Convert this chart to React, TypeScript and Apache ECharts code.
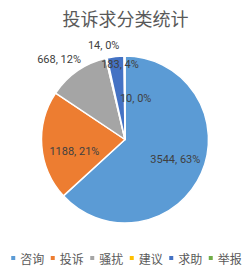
import React, { useEffect, useRef } from "react";
import * as echarts from "echarts";

const titleText = "投诉求分类统计";
const categories = ["咨询", "投诉", "骚扰", "建议", "求助", "举报"];
const values = [3544, 1188, 668, 14, 183, 10];
const percentLabels = ["63%", "21%", "12%", "0%", "4%", "0%"];

const colors = ["#5B9BD5", "#ED7D31", "#A5A5A5", "#FFC000", "#4472C4", "#70AD47"];
// label placement (distance from centre in px, angle offset from slice middle in degrees)
const labelDist = [54, 52, 104, 96, 75, 42];
const labelAngleOffset = [-2.5, -9, -4.6, 0, 2.7, 15];

const CX = 125;
const CY = 139.5;
const R = 83.5;

export default function App() {
  const ref = useRef<HTMLDivElement>(null);
  useEffect(() => {
    document.body.style.margin = "0";
    const chart = echarts.init(ref.current!, null, { renderer: "svg" });
    const total = values.reduce((a, b) => a + b, 0);
    const mids: number[] = [];
    let cum = 0;
    values.forEach((v) => {
      mids.push(((cum + v / 2) / total) * 360);
      cum += v;
    });
    chart.setOption({
      animation: false,
      color: colors,
      title: {
        text: titleText,
        left: "center",
        top: 4,
        textStyle: {
          fontFamily: "Noto Sans CJK SC",
          fontSize: 18,
          fontWeight: "normal",
          color: "#595959",
        },
      },
      legend: {
        data: categories,
        bottom: 6,
        left: "center",
        icon: "rect",
        itemWidth: 6,
        itemHeight: 6,
        itemGap: 4.5,
        textStyle: {
          fontFamily: "Noto Sans CJK SC",
          fontSize: 12,
          color: "#595959",
          padding: [0, 0, 0, -1],
        },
      },
      series: [
        {
          type: "pie",
          center: [CX, CY],
          radius: R,
          startAngle: 90,
          clockwise: true,
          avoidLabelOverlap: false,
          itemStyle: { borderColor: "#ffffff", borderWidth: 1.5 },
          labelLine: { show: false },
          label: {
            show: true,
            position: "inside",
            fontFamily: "Roboto",
            fontSize: 11,
            color: "#404040",
            formatter: (p: any) => `${p.value}, ${percentLabels[p.dataIndex]}`,
          },
          labelLayout: (p: any) => {
            const i = p.dataIndex;
            const a = ((mids[i] + labelAngleOffset[i]) * Math.PI) / 180;
            return {
              x: CX + labelDist[i] * Math.sin(a),
              y: CY - labelDist[i] * Math.cos(a),
              align: "center",
              verticalAlign: "middle",
            };
          },
          data: categories.map((c, i) => ({ name: c, value: values[i] })),
        },
      ],
    });
    return () => chart.dispose();
  }, []);
  return <div ref={ref} style={{ width: 251, height: 275 }} />;
}
